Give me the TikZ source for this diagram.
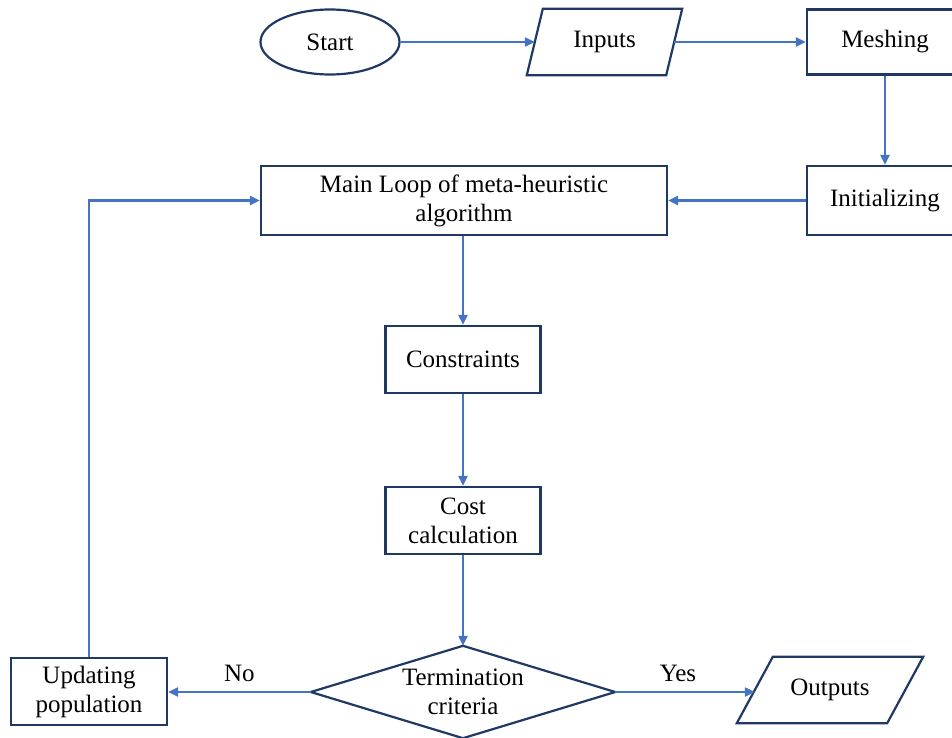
\documentclass[tikz,border=0pt]{standalone}
\usepackage{fontspec}
\setmainfont{Liberation Serif}
\usetikzlibrary{shapes.geometric,arrows.meta,calc}
\definecolor{boxc}{HTML}{1F3864}
\definecolor{arrc}{HTML}{4472C4}
\begin{document}
\begin{tikzpicture}[x=1pt,y=-1pt,
  every node/.style={font=\fontsize{25}{29}\selectfont},
  box/.style={draw=boxc,line width=2.2pt,rectangle,align=center,inner sep=0pt},
  ghost/.style={align=center,inner sep=0pt},
  outl/.style={draw=boxc,line width=2.2pt,line join=miter},
  flow/.style={draw=arrc,line width=2.2pt,-{Triangle[length=10pt,width=9pt]}}]
\useasboundingbox (0,0) rectangle (952,738);
\clip (0,0) rectangle (952,738);
% nodes
\node[box,ellipse,minimum width=139,minimum height=65] (start) at (330,42) {Start};
\node[ghost,minimum width=139,minimum height=66] (inputs) at (604.5,42) {Inputs};
\draw[outl] ($(inputs.north west)+(8,0)$) -- ($(inputs.north east)+(8,0)$)
  -- ($(inputs.south east)+(-8,0)$) -- ($(inputs.south west)+(-8,0)$) -- cycle;
\node[box,minimum width=156,minimum height=65] (mesh) at (885,42) {Meshing};
\node[box,minimum width=156,minimum height=69] (init) at (885,200.5) {Initializing};
\node[box,minimum width=406,minimum height=69] (main) at (464,200.5) {Main Loop of meta-heuristic\\algorithm};
\node[box,minimum width=155,minimum height=67] (cons) at (463,359.5) {Constraints};
\node[box,minimum width=155,minimum height=67] (cost) at (463,520.5) {Cost\\calculation};
\node[ghost,minimum width=304,minimum height=92] (term) at (463,692) {Termination\\criteria};
\draw[outl] (term.west) -- (term.north) -- (term.east) -- (term.south) -- cycle;
\node[ghost,minimum width=150,minimum height=66] (outp) at (830,690) {Outputs};
\draw[outl] ($(outp.north west)+(18,0)$) -- ($(outp.north east)+(18,0)$)
  -- ($(outp.south east)+(-18,0)$) -- ($(outp.south west)+(-18,0)$) -- cycle;
\node[box,minimum width=156,minimum height=67] (upd) at (89,691.5) {Updating\\population};
% connectors
\draw[flow] (start.east) -- (inputs.west);
\draw[flow] (inputs.east) -- (mesh.west);
\draw[flow] (mesh) -- (init);
\draw[flow] (init.west) -- (main.east |- init.west);
\draw[flow] (main.south -| cons.north) -- (cons.north);
\draw[flow] (cons) -- (cost);
\draw[flow] (cost) -- (term.north);
\draw[flow] (term.west) -- (upd.east |- term.west) node[midway,above=6pt] {No};
\draw[flow] (term.east) -- (outp.west |- term.east) node[pos=0.45,above=6pt] {Yes};
\draw[flow] (upd.north) |- (main.west);
\end{tikzpicture}
\end{document}
